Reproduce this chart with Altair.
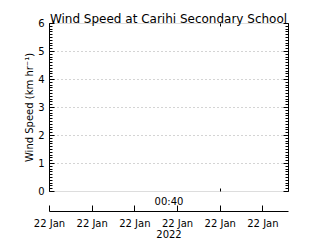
import altair as alt

# ---- data (no valid readings in this period) ----
times = ["2022-01-22T00:40:00Z"]
speeds = [None]

title_text = "Wind Speed at Carihi Secondary School"
y_title = "Wind Speed (km hr\u207b\u00b9)"
x_title = "2022"
sub_title = "00:40"

x_start_min = 0
x_end_min = 56
x_tick_minutes = [0, 10, 20, 30, 40, 50]
x_mark_minutes = [40]
y_major = [0, 1, 2, 3, 4, 5, 6]
y_grid = [1, 2, 3, 4, 5]
y_minor = [round(i * 0.1, 1) for i in range(61)]

rows = [{"time": t, "speed": s} for t, s in zip(times, speeds)]
data = alt.Data(values=rows)

FONT = "DejaVu Sans"


def dt(m):
    return alt.DateTime(year=2022, month=1, date=22, hours=0, minutes=m, utc=True)


xscale = alt.Scale(type="utc", domain=[dt(x_start_min), dt(x_end_min)])
yscale = alt.Scale(domain=[0, 6], nice=False, zero=False)

common = dict(grid=False, domainColor="black", tickColor="black", labelColor="black",
              titleColor="black", labelFont=FONT, titleFont=FONT, labelFontSize=10,
              titleFontSize=10, titleFontWeight="normal")

xA = alt.Axis(orient="bottom", offset=14, domain=False, ticks=True, tickSize=6,
              values=[dt(m) for m in x_tick_minutes],
              labelExpr="utcFormat(datum.value, '%d %b')",
              labelPadding=7, labelOverlap=False, labelFlush=False,
              title=x_title, titlePadding=1, **common)
xB = alt.Axis(orient="bottom", offset=20, domain=True, ticks=False, labels=False,
              title=None, **common)
xC = alt.Axis(orient="bottom", offset=-3, domain=False, ticks=True, tickSize=3,
              values=[dt(m) for m in x_mark_minutes], labels=False,
              title=sub_title, titlePadding=5, **common)
xD = alt.Axis(orient="top", offset=-3, domain=False, ticks=True, tickSize=3,
              values=[dt(m) for m in x_mark_minutes], labels=False, title=None, **common)

c2 = {k: v for k, v in common.items() if k != "grid"}
y1 = alt.Axis(orient="left", offset=0, domain=True, ticks=False, labels=False,
              grid=True, values=y_grid, gridColor="#a8a8a8", gridDash=[1, 3], gridWidth=1,
              title=y_title, titlePadding=15, **c2)
y2 = alt.Axis(orient="left", offset=-5, domain=False, ticks=True, tickSize=5,
              values=y_major, labelPadding=5, title=None, **common)
y3 = alt.Axis(orient="left", offset=-3, domain=False, ticks=True, tickSize=3,
              values=y_minor, labels=False, title=None, **common)
y4 = alt.Axis(orient="right", offset=0, domain=True, ticks=False, labels=False,
              title=None, **common)
y5 = alt.Axis(orient="right", offset=-5, domain=False, ticks=True, tickSize=5,
              values=y_major, labels=False, title=None, **common)
y6 = alt.Axis(orient="right", offset=-3, domain=False, ticks=True, tickSize=3,
              values=y_minor, labels=False, title=None, **common)


def layer(xaxis, yaxis):
    return alt.Chart(data).mark_line(color="black", strokeWidth=1).encode(
        x=alt.X("time:T", scale=xscale, axis=xaxis),
        y=alt.Y("speed:Q", scale=yscale, axis=yaxis),
    )


chart = alt.layer(
    layer(xA, y1),
    layer(xB, y2),
    layer(xC, y3),
    layer(xD, y4),
    layer(None, y5),
    layer(None, y6),
).resolve_axis(x="independent", y="independent").resolve_scale(
    x="shared", y="shared"
).properties(
    width=239,
    height=168,
    autosize=alt.AutoSizeParams(type="none"),
    padding={"left": 41, "top": 15, "right": 24, "bottom": 48},
    title=alt.TitleParams(title_text, font=FONT, fontSize=12, fontWeight="normal",
                          color="black", anchor="middle", offset=-8),
).configure_view(
    stroke="black", strokeDash=[2, 1], strokeWidth=1
).configure(background="white")

chart.save("out.html", embed_options={"renderer": "svg", "actions": False})
